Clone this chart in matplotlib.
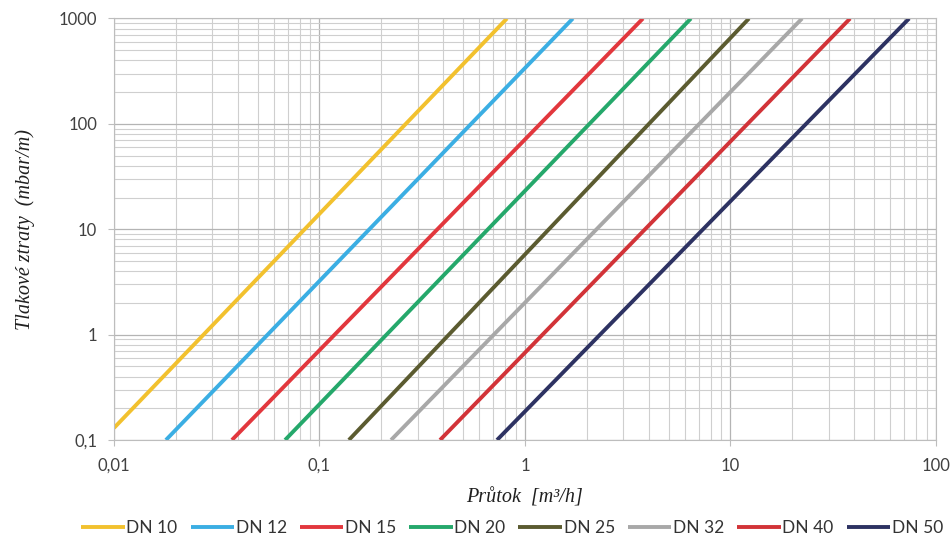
import matplotlib
matplotlib.use("Agg")
import matplotlib.pyplot as plt
from matplotlib.ticker import LogLocator, FixedLocator, NullFormatter

# pipe sizes, colours and line endpoints (log-log straight lines)
names = ["DN 10", "DN 12", "DN 15", "DN 20", "DN 25", "DN 32", "DN 40", "DN 50"]
colors = ["#F2C12E", "#3BAEE3", "#E2373D", "#25A86B", "#5B5B30", "#A8A8A8", "#D23338", "#2D3262"]
flow_start = [0.01, 0.0179, 0.0375, 0.068, 0.139, 0.223, 0.386, 0.731]   # m3/h
loss_start = [0.13, 0.1, 0.1, 0.1, 0.1, 0.1, 0.1, 0.1]                 # mbar/m
flow_end = [0.817, 1.71, 3.75, 6.42, 12.3, 22.3, 38.2, 74.0]
loss_end = [1000, 1000, 1000, 1000, 1000, 1000, 1000, 1000]

xticks = [0.01, 0.1, 1, 10, 100]
xlabels = ["0,01", "0,1", "1", "10", "100"]
yticks = [0.1, 1, 10, 100, 1000]
ylabels = ["0,1", "1", "10", "100", "1000"]

plt.rcParams['font.family'] = ['Lato', 'DejaVu Sans']

fig = plt.figure(figsize=(9.52, 5.37), dpi=100)
ax = fig.add_axes([0.1197, 0.1806, 0.8635, 0.785])

for i in range(len(names)):
    ax.plot([flow_start[i], flow_end[i]], [loss_start[i], loss_end[i]],
            color=colors[i], lw=2.8, label=names[i], solid_capstyle='butt')

ax.set_xscale('log')
ax.set_yscale('log')
ax.set_xlim(0.01, 100)
ax.set_ylim(0.1, 1000)

ax.xaxis.set_major_locator(FixedLocator(xticks))
ax.set_xticklabels(xlabels)
ax.yaxis.set_major_locator(FixedLocator(yticks))
ax.set_yticklabels(ylabels)
ax.xaxis.set_minor_locator(LogLocator(base=10, subs=range(2, 10)))
ax.yaxis.set_minor_locator(LogLocator(base=10, subs=range(2, 10)))
ax.xaxis.set_minor_formatter(NullFormatter())
ax.yaxis.set_minor_formatter(NullFormatter())

ax.grid(which='major', color='#b4b4b4', lw=0.9)
ax.grid(which='minor', color='#cfcfcf', lw=0.8)
ax.set_axisbelow(True)
for s in ax.spines.values():
    s.set_color('#bdbdbd')
    s.set_linewidth(0.8)

ax.tick_params(which='major', length=4, color='#bdbdbd', labelsize=12,
               labelcolor='#404040')
ax.tick_params(axis='x', pad=9)
ax.tick_params(axis='y', pad=8)
ax.tick_params(which='minor', length=0)

ax.set_xlabel('Průtok  [m³/h]', family='Liberation Serif', style='italic',
              fontsize=14.5, color='#202020', labelpad=10)
ax.set_ylabel('Tlakové ztraty  (mbar/m)', family='Liberation Serif', style='italic',
              fontsize=14.5, color='#202020', labelpad=17)

fig.legend(loc='center', bbox_to_anchor=(0.538, 1 - 528 / 537), ncol=8, frameon=False,
           fontsize=12.5, handlelength=2.5, handletextpad=0.1, columnspacing=0.75,
           labelcolor='#333333')

plt.savefig('out.png', dpi=100)
